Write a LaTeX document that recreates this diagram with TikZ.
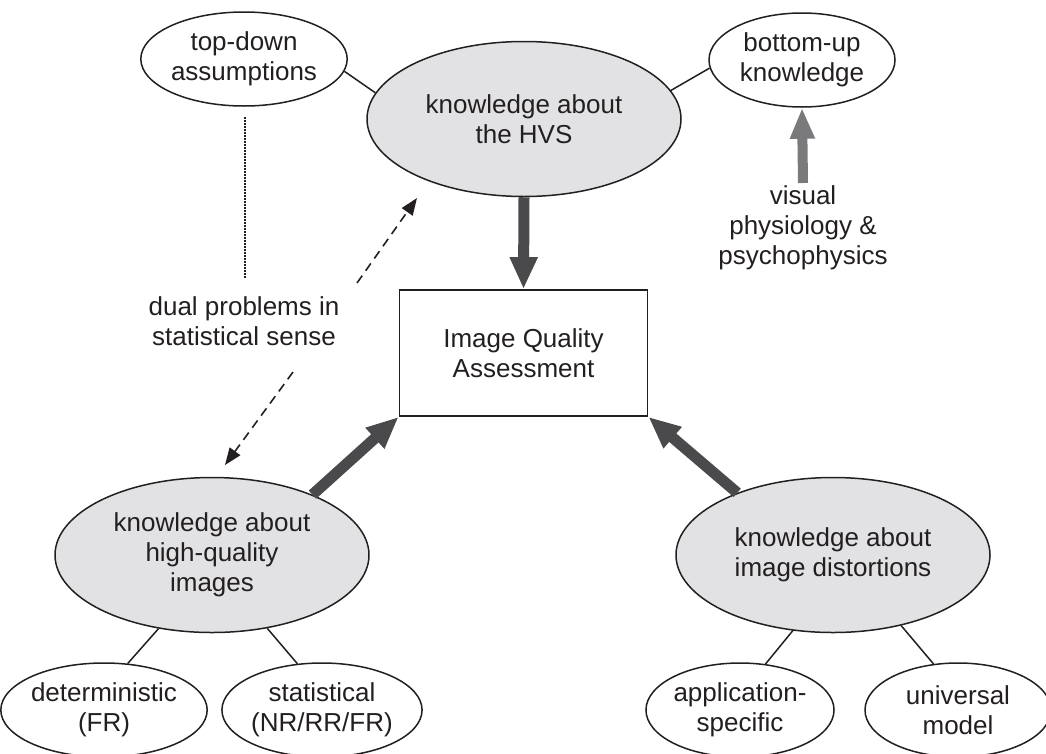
\documentclass[tikz,border=0pt]{standalone}
\usepackage{fontspec}
\setmainfont{Liberation Sans}
\usetikzlibrary{shapes.geometric,arrows.meta}
\definecolor{ink}{HTML}{231F20}
\definecolor{ellfill}{HTML}{E2E2E4}
\definecolor{darkarr}{HTML}{4A4A4C}
\definecolor{grayarr}{HTML}{7A7A7C}
\begin{document}
\begin{tikzpicture}[x=1pt,y=-1pt,
  font=\fontsize{26}{30}\selectfont, text=ink,
  smallell/.style={ellipse, draw=ink, line width=1.5pt, fill=white, minimum width=186pt, minimum height=94pt, inner sep=0pt, align=center},
  bigell/.style={ellipse, draw=ink, line width=1.5pt, fill=ellfill, minimum width=314pt, minimum height=155pt, inner sep=0pt, align=center},
  boxnode/.style={rectangle, draw=ink, line width=1.8pt, minimum width=248pt, minimum height=126pt, inner sep=0pt, align=center},
  plain/.style={align=center, inner sep=0pt},
  link/.style={draw=ink, line width=1.5pt},
  bigarrow/.style={draw=darkarr, line width=11pt, -{Triangle[width=26pt,length=32pt]}},
  grayarrow/.style={draw=grayarr, line width=10pt, -{Triangle[width=23pt,length=31pt]}},
  dasharrow/.style={draw=ink, line width=1.6pt, dash pattern=on 9pt off 6pt, -{Triangle[width=13pt,length=17pt]}},
  dotline/.style={draw=ink, line width=1.4pt, dash pattern=on 1.5pt off 1.5pt}
]
\useasboundingbox (0,0) rectangle (1046,753);

\node[smallell] (td) at (244,59) {top-down\\assumptions};
\node[bigell] (hvs) at (524,119) {knowledge about\\the HVS};
\node[smallell] (bu) at (802,60) {bottom-up\\knowledge};
\node[boxnode] (iqa) at (523.5,353) {Image Quality\\Assessment};
\node[bigell] (hq) at (212,555) {knowledge about\\high-quality\\images};
\node[bigell] (hd) at (833,555) {knowledge about\\image distortions};
\node[smallell] (det) at (104,710) {deterministic\\(FR)};
\node[smallell] (stat) at (322,710) {statistical\\(NR/RR/FR)};
\node[smallell] (app) at (740,710) {application-\\specific};
\node[smallell] (uni) at (958,710) {universal\\model};

\node[plain] (phys) at (803,228) {visual\\physiology \&\\psychophysics};
\node[plain] (dual) at (244,321) {dual problems in\\statistical sense};

% links
\draw[link] (td.353) -- (hvs.170);
\draw[link] (hvs.11) -- (bu.185);
\draw[link] (det.63) -- (hq.234);
\draw[link] (stat.118) -- (hq.307);
\draw[link] (app.61) -- (hd.242);
\draw[link] (uni.118) -- (hd.314);

% thick arrows
\draw[bigarrow] (hvs.south) -- (iqa.north);
\draw[bigarrow] (hq.31) -- (iqa.south west);
\draw[bigarrow] (hd.147) -- (iqa.south east);

% gray arrow
\coordinate (gtail) at (803,183);
\draw[grayarrow] (gtail) -- (bu.south);

% dotted line
\coordinate (dtop) at (245,117);
\coordinate (dbot) at (245,278);
\draw[dotline] (dtop) -- (dbot);

% dashed arrows
\coordinate (ua) at (357,283);
\coordinate (ub) at (417,198);
\coordinate (la) at (293,372);
\coordinate (lb) at (225,465);
\draw[dasharrow] (ua) -- (ub);
\draw[dasharrow] (la) -- (lb);
\end{tikzpicture}
\end{document}
